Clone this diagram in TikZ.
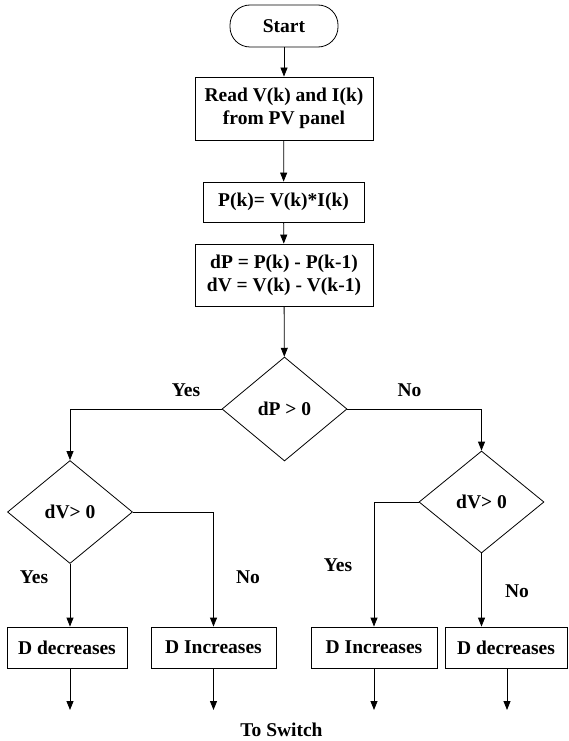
\documentclass[tikz,border=0pt]{standalone}
\usepackage{fontspec}
\setmainfont{Liberation Serif}
\usetikzlibrary{shapes.geometric,arrows.meta}

\begin{document}
\begin{tikzpicture}[
    x = 1pt, y = -1pt,
    line width = 0.8pt,
    font = \fontsize{19.5}{23}\selectfont\bfseries,
    >={Triangle[length=9pt, width=7pt]},
    box/.style = {draw, rectangle, minimum height = 41pt, inner sep = 0pt, align = center},
    decision/.style = {draw, diamond, inner sep = 0pt, minimum width = 125pt, minimum height = 103pt},
    label/.style = {inner sep = 0pt}
]

\useasboundingbox (0, 0) rectangle (568, 741);

\node[draw, rectangle, rounded corners = 20pt, minimum width = 108pt, minimum height = 42pt] (start) at (284, 26) {Start};
\node[box, minimum width = 178pt, minimum height = 63pt] (read) at (284, 108.5) {Read V(k) and I(k)\\from PV panel};
\node[box, minimum width = 161pt, minimum height = 40pt] (power) at (283.5, 202) {P(k)= V(k)*I(k)};
\node[box, minimum width = 178pt, minimum height = 62pt] (delta) at (284, 275) {dP = P(k) - P(k-1)\\dV = V(k) - V(k-1)};

\node[decision, minimum height = 104pt] (dP) at (284.5, 409) {dP > 0};
\node[decision] (dVleft) at (70, 512) {dV> 0};
\node[decision, minimum height = 102pt] (dVright) at (481.5, 502) {dV> 0};

\node[box, minimum width = 120pt] (decA) at (67, 647.5) {D decreases};
\node[box, minimum width = 125pt] (incA) at (213.5, 647.5) {D Increases};
\node[box, minimum width = 126pt] (incB) at (374, 647.5) {D Increases};
\node[box, minimum width = 122pt] (decB) at (506, 647.5) {D decreases};

\draw[->] (start) -- (read);
\draw[->] (read) -- (power);
\draw[->] (power) -- (delta);
\draw[->] (delta) -- (dP);

\draw[->] (dP.west) -| (dVleft.north);
\draw[->] (dP.east) -| (dVright.north);
\draw[->] (dVleft.south) -- (dVleft.south |- decA.north);
\draw[->] (dVleft.east) -| (incA.north);
\draw[->] (dVright.west) -| (incB.north);
\draw[->] (dVright.south) -- (dVright.south |- decB.north);

\node[label] (yes1) at (186, 390) {Yes};
\node[label] (no1) at (409.5, 390) {No};
\node[label] (yes2) at (34, 577) {Yes};
\node[label] (no2) at (248, 577) {No};
\node[label] (yes3) at (338, 565) {Yes};
\node[label] (no3) at (517, 591) {No};

% outputs
\foreach \b/\x in {decA/70, incA/213.5, incB/374, decB/507}
{
    \coordinate (\b end) at (\x, 710);
    \draw[->] (\b end |- \b.south) -- (\b end);
}

\node[label] (switch) at (281.5, 730) {To Switch};

\end{tikzpicture}
\end{document}
